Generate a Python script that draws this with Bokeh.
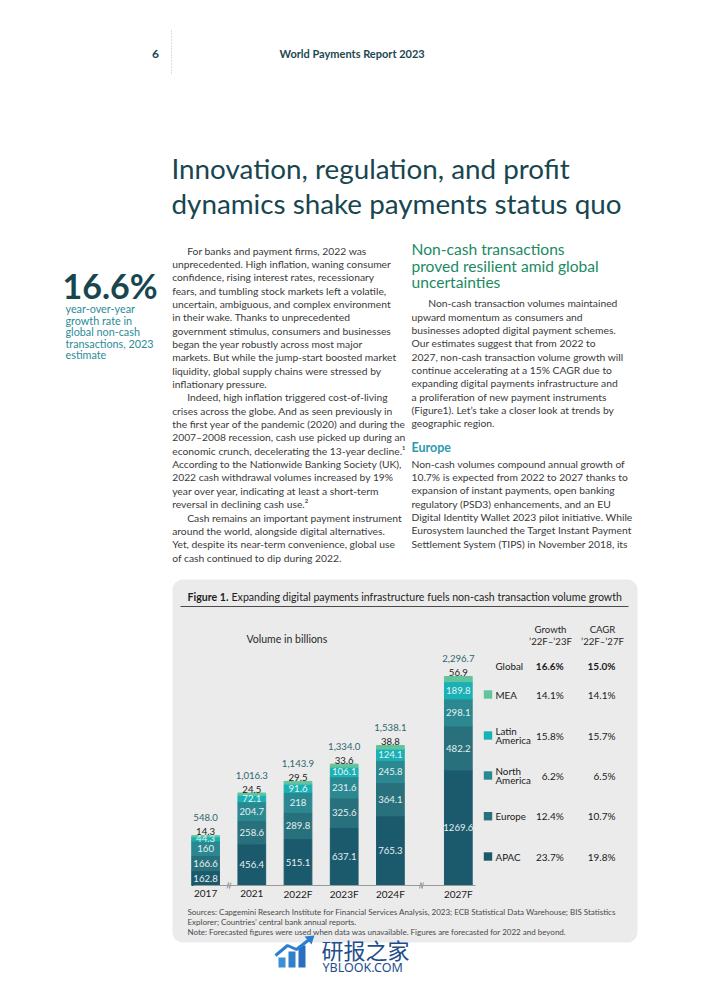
import numpy as np
from bokeh.plotting import figure
from bokeh.models import Range1d, ColumnDataSource, BoxAnnotation
from bokeh.core.properties import value
from bokeh.embed import file_html
from bokeh.resources import INLINE

# ---------------- data ----------------
years = ["2017", "2021", "2022F", "2023F", "2024F", "2027F"]
apac = [162.8, 456.4, 515.1, 637.1, 765.3, 1269.6]
europe = [166.6, 258.6, 289.8, 325.6, 364.1, 482.2]
north_america = [160.0, 204.7, 218.0, 231.6, 245.8, 298.1]
latin_america = [44.3, 72.1, 91.6, 106.1, 124.1, 189.8]
mea = [14.3, 24.5, 29.5, 33.6, 38.8, 56.9]
totals = [548.0, 1016.3, 1143.9, 1334.0, 1538.1, 2296.7]

legend_names = ["Global", "MEA", "Latin\nAmerica", "North\nAmerica", "Europe", "APAC"]
growth_22_23 = [16.6, 14.1, 15.8, 6.2, 12.4, 23.7]
cagr_22_27 = [15.0, 14.1, 15.7, 6.5, 10.7, 19.8]

left_body = [
    "For banks and payment firms, 2022 was",
    "unprecedented. High inflation, waning consumer",
    "confidence, rising interest rates, recessionary",
    "fears, and tumbling stock markets left a volatile,",
    "uncertain, ambiguous, and complex environment",
    "in their wake. Thanks to unprecedented",
    "government stimulus, consumers and businesses",
    "began the year robustly across most major",
    "markets. But while the jump-start boosted market",
    "liquidity, global supply chains were stressed by",
    "inflationary pressure.",
    "Indeed, high inflation triggered cost-of-living",
    "crises across the globe. And as seen previously in",
    "the first year of the pandemic (2020) and during the",
    "2007\u20132008 recession, cash use picked up during an",
    "economic crunch, decelerating the 13-year decline.\u00b9",
    "According to the Nationwide Banking Society (UK),",
    "2022 cash withdrawal volumes increased by 19%",
    "year over year, indicating at least a short-term",
    "reversal in declining cash use.\u00b2",
    "Cash remains an important payment instrument",
    "around the world, alongside digital alternatives.",
    "Yet, despite its near-term convenience, global use",
    "of cash continued to dip during 2022.",
]
left_indent = [0, 11, 20]

right_heading = ["Non-cash transactions", "proved resilient amid global", "uncertainties"]
right_body1 = [
    "Non-cash transaction volumes maintained",
    "upward momentum as consumers and",
    "businesses adopted digital payment schemes.",
    "Our estimates suggest that from 2022 to",
    "2027, non-cash transaction volume growth will",
    "continue accelerating at a 15% CAGR due to",
    "expanding digital payments infrastructure and",
    "a proliferation of new payment instruments",
    "(Figure1). Let\u2019s take a closer look at trends by",
    "geographic region.",
]
right_body2 = [
    "Non-cash volumes compound annual growth of",
    "10.7% is expected from 2022 to 2027 thanks to",
    "expansion of instant payments, open banking",
    "regulatory (PSD3) enhancements, and an EU",
    "Digital Identity Wallet 2023 pilot initiative. While",
    "Eurosystem launched the Target Instant Payment",
    "Settlement System (TIPS) in November 2018, its",
]
sources = [
    "Sources: Capgemini Research Institute for Financial Services Analysis, 2023; ECB Statistical Data Warehouse; BIS Statistics",
    "Explorer; Countries\u2019 central bank annual reports.",
    "Note: Forecasted figures were used when data was unavailable. Figures are forecasted for 2022 and beyond.",
]

# ---------------- styles ----------------
FONT = "Lato"
DARK = "#17464f"
BODY = "#3a3a3a"
BODY_SIZE = 10.3
LBL = 9.6
colors = ["#1b5a6c", "#28707b", "#2b8890", "#19b1b5", "#62c49c"]

W, H = 686, 975
p = figure(width=W, height=H, x_range=Range1d(0, W), y_range=Range1d(H, 0),
           output_backend="svg", toolbar_location=None, min_border=0,
           x_axis_location=None, y_axis_location=None)
p.grid.visible = False
p.outline_line_color = None
p.background_fill_color = "white"
p.border_fill_color = "white"

# chart scales: bar slot index -> pixels, volume -> pixels
PX_PER_SLOT = 46.2
X0 = 205.1
PX_PER_BN = 0.091
BASE = 885
p.extra_x_ranges = {"bx": Range1d((0 - X0) / PX_PER_SLOT, (W - X0) / PX_PER_SLOT)}
p.extra_y_ranges = {"vol": Range1d(-(H - BASE) / PX_PER_BN, (BASE - 0) / PX_PER_BN)}


def txt(xs, ys, texts, size, color, style="normal", align="left", baseline="middle", font=FONT, **kw):
    p.text(x=xs, y=ys, text=texts, text_font=value(font), text_font_size=f"{size}px",
           text_color=color, text_font_style=style, text_align=align, text_baseline=baseline, **kw)


# ---------------- header ----------------
txt([155], [53], ["6"], 12, DARK, style="bold", align="center")
p.segment(x0=[171], y0=[30], x1=[171], y1=[73], line_color="#b8b8b8", line_width=1, line_dash="1 2")
txt([279], [53], ["World Payments Report 2023"], 11, "#1d4750", style="bold")

# title
txt([171, 171], [168, 203], ["Innovation, regulation, and profit", "dynamics shake payments status quo"], 27.8, DARK)

# big stat
txt([62], [285], ["16.6%"], 34, DARK, style="bold")
txt([65] * 5, [308, 319.6, 331.2, 342.8, 354.4],
    ["year-over-year", "growth rate in", "global non-cash", "transactions, 2023", "estimate"], 10.8, "#2b8c98")

# left column body
ys = [250 + 13.35 * i for i in range(len(left_body))]
xs = [186.7 if i in left_indent else 171.7 for i in range(len(left_body))]
txt(xs, ys, left_body, BODY_SIZE, BODY)

# right column
txt([411] * 3, [248.3, 265, 281.7], right_heading, 15.6, "#1b8a62")
ys = [302.7 + 13.33 * i for i in range(len(right_body1))]
xs = [427.7 if i == 0 else 411 for i in range(len(right_body1))]
txt(xs, ys, right_body1, BODY_SIZE, BODY)
txt([411], [446.7], ["Europe"], 12.5, "#2b9ab0", style="bold")
ys = [463.3 + 13.33 * i for i in range(len(right_body2))]
txt([411] * len(right_body2), ys, right_body2, BODY_SIZE, BODY)

# ---------------- figure box ----------------
p.add_layout(BoxAnnotation(left=172, right=637, top=579, bottom=942, fill_color="#ebebeb",
                           fill_alpha=1, line_color=None, border_radius=10, level="underlay"))
txt([187], [596], ["Figure 1."], 10.6, "#1e1e1e", style="bold")
txt([231], [596], ["Expanding digital payments infrastructure fuels non-cash transaction volume growth"], 10.6, "#1e1e1e")
p.segment(x0=[180], y0=[606], x1=[628], y1=[606], line_color="#4a4a4a", line_width=1)

txt([246], [638], ["Volume in billions"], 10.5, "#2a2a2a")

# stacked bars
n = len(years)
x_pos = np.arange(n, dtype=float)
x_pos[-1] += 0.47  # axis break before 2027F
keys = ["APAC", "Europe", "North America", "Latin America", "MEA"]
src = ColumnDataSource({"x": x_pos, "APAC": apac, "Europe": europe, "North America": north_america,
                        "Latin America": latin_america, "MEA": mea})
p.vbar_stack(keys, x="x", width=0.6, color=colors, source=src, x_range_name="bx", y_range_name="vol")

stack = np.vstack([apac, europe, north_america, latin_america, mea])
bottoms = np.vstack([np.zeros(n), np.cumsum(stack, axis=0)[:-1]])
centers = bottoms + stack / 2
for i in range(4):
    txt(list(x_pos), list(centers[i]), [f"{v:g}" for v in stack[i]], LBL, "#e4f1f2",
        align="center", x_range_name="bx", y_range_name="vol")
tops = np.cumsum(stack, axis=0)[-1]
txt(list(x_pos), list(tops), [f"{v:g}" for v in mea], LBL, "#1a1a1a", align="center",
    y_offset=-4, x_range_name="bx", y_range_name="vol")
txt(list(x_pos), list(tops), [f"{v:,.1f}" for v in totals], LBL, "#2d6570", align="center",
    y_offset=-18, x_range_name="bx", y_range_name="vol")

# baseline axis + breaks
p.segment(x0=[193], y0=[0], x1=[475], y1=[0], line_color="#9a9a9a", line_width=1, y_range_name="vol")
for bx in (228.5, 421):
    p.line(x=[bx - 2, bx - 0.5, bx + 0.5, bx + 2], y=[888, 882, 888, 882], line_color="#9a9a9a", line_width=1)
txt(list(x_pos), [0] * n, years, 10, "#1a1a1a", align="center", y_offset=8,
    x_range_name="bx", y_range_name="vol")

# legend table
row_y = [665, 694, 735, 775, 815.7, 856]
txt([550, 550], [629, 641], ["Growth", "\u201922F\u2013\u201923F"], 9.6, "#2a2a2a", align="center")
txt([602, 602], [629, 641], ["CAGR", "\u201922F\u2013\u201927F"], 9.6, "#2a2a2a", align="center")
leg_colors = list(reversed(colors))
for r, (name, g, c) in enumerate(zip(legend_names, growth_22_23, cagr_22_27)):
    y = row_y[r]
    style = "bold" if r == 0 else "normal"
    if r > 0:
        p.quad(left=[483.3], right=[491.7], top=[y - 4.2], bottom=[y + 4.2], fill_color=leg_colors[r - 1],
               line_color=None)
    lines = name.split("\n")
    if len(lines) == 1:
        txt([495], [y], lines, 9.8, "#1a1a1a")
    else:
        txt([495, 495], [y - 4.7, y + 4.7], lines, 9.8, "#1a1a1a")
    txt([563.3], [y], [f"{g:.1f}%"], 10, "#1a1a1a", style=style, align="right")
    txt([615], [y], [f"{c:.1f}%"], 10, "#1a1a1a", style=style, align="right")

# sources
txt([187] * 3, [911.5, 921.5, 931.5], sources, 8.0, "#4a4a4a")

# ---------------- watermark ----------------
p.quad(left=[278, 288, 298], right=[285, 295, 305], top=[957, 951, 945], bottom=[967, 967, 967],
       fill_color=["#3b8fd6", "#2f7fcc", "#2a6fbf"], line_color=None)
p.line(x=[275, 287, 296, 310], y=[955, 945, 949, 938], line_color="#2a7fd0", line_width=3)
p.patch(x=[304, 314, 311], y=[936, 935, 944], fill_color="#2a7fd0", line_color=None)
txt([321], [948.5], ["\u7814\u62a5\u4e4b\u5bb6"], 22, "#1f4e8c", font="Noto Sans CJK SC")
txt([322], [967], ["YBLOOK.COM"], 12.5, "#1f4e8c", font="Noto Sans")

open("out.html", "w").write(file_html(p, INLINE))
